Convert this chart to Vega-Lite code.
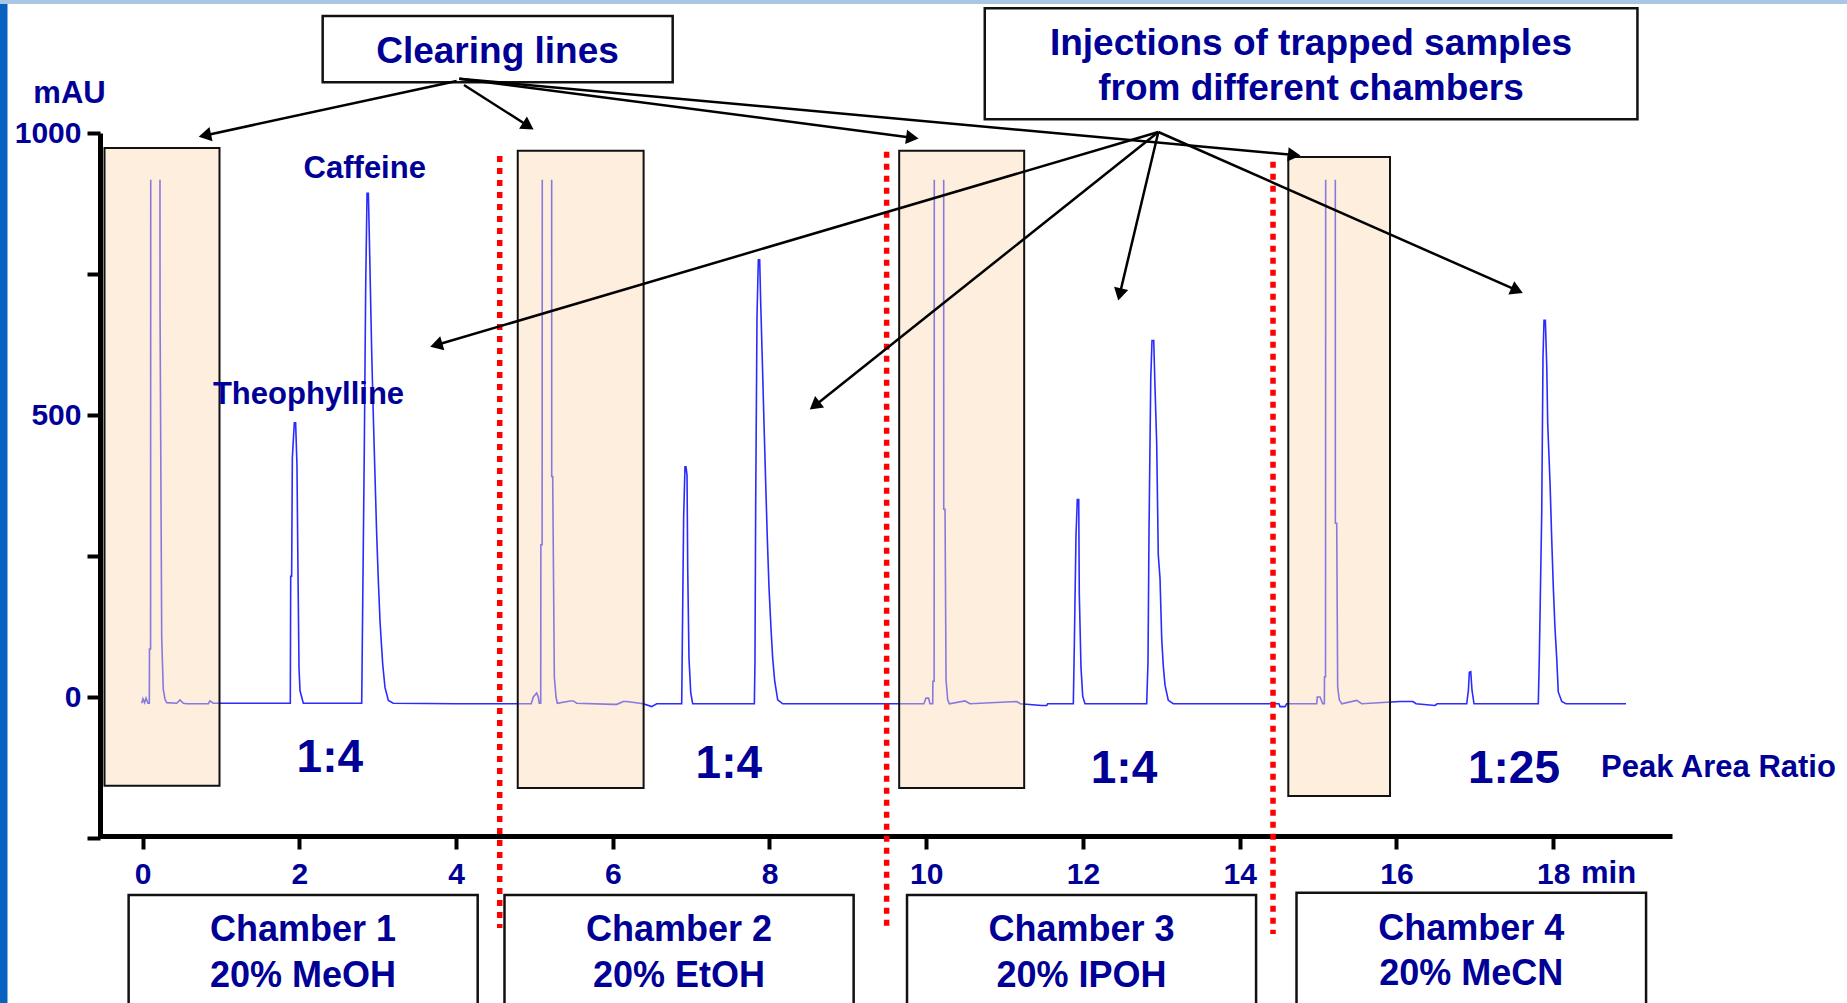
{
  "$schema": "https://vega.github.io/schema/vega-lite/v6.json",
  "autosize": "none",
  "width": 1572,
  "height": 705,
  "padding": {"left": 100, "top": 133, "right": 175, "bottom": 165},
  "background": "white",
  "config": {
    "view": {"stroke": null},
    "axis": {"grid": false},
    "text": {"font": "Liberation Sans", "fontWeight": "bold", "color": "#000096", "baseline": "alphabetic"}
  },
  "datasets": {
    "frame": [
      {"part": "edge", "t1": -1.95, "t2": -1.7226, "v1": -650, "v2": 1300},
      {"part": "top", "t1": -1.95, "t2": 22.5, "v1": 1228.7, "v2": 1300}
    ],
    "trace": [
      {"seg": 1, "t": -0.01, "v": -11}, {"seg": 1, "t": 0.006, "v": -3}, {"seg": 1, "t": 0.026, "v": -10},
      {"seg": 1, "t": 0.045, "v": -2}, {"seg": 1, "t": 0.07, "v": -11}, {"seg": 1, "t": 0.087, "v": -11},
      {"seg": 1, "t": 0.089, "v": 85}, {"seg": 1, "t": 0.103, "v": 85}, {"seg": 1, "t": 0.105, "v": 917},

      {"seg": 2, "t": 0.223, "v": 917}, {"seg": 2, "t": 0.2235, "v": 696}, {"seg": 2, "t": 0.245, "v": 105},
      {"seg": 2, "t": 0.265, "v": 14}, {"seg": 2, "t": 0.287, "v": -4}, {"seg": 2, "t": 0.309, "v": -10},
      {"seg": 2, "t": 0.436, "v": -11}, {"seg": 2, "t": 0.478, "v": -5}, {"seg": 2, "t": 0.521, "v": -11},
      {"seg": 2, "t": 0.564, "v": -12}, {"seg": 2, "t": 0.84, "v": -12}, {"seg": 2, "t": 0.861, "v": -7},
      {"seg": 2, "t": 0.903, "v": -11},
      {"seg": 2, "t": 1.886, "v": -11}, {"seg": 2, "t": 1.891, "v": 214}, {"seg": 2, "t": 1.903, "v": 214},
      {"seg": 2, "t": 1.912, "v": 424}, {"seg": 2, "t": 1.937, "v": 486}, {"seg": 2, "t": 1.954, "v": 486},
      {"seg": 2, "t": 1.971, "v": 411}, {"seg": 2, "t": 1.984, "v": 221}, {"seg": 2, "t": 1.997, "v": 51},
      {"seg": 2, "t": 2.01, "v": 11}, {"seg": 2, "t": 2.052, "v": -11},
      {"seg": 2, "t": 2.797, "v": -11}, {"seg": 2, "t": 2.805, "v": 99}, {"seg": 2, "t": 2.83, "v": 438},
      {"seg": 2, "t": 2.848, "v": 730}, {"seg": 2, "t": 2.865, "v": 893}, {"seg": 2, "t": 2.882, "v": 893},
      {"seg": 2, "t": 2.894, "v": 818}, {"seg": 2, "t": 2.925, "v": 608}, {"seg": 2, "t": 2.945, "v": 499},
      {"seg": 2, "t": 2.967, "v": 390}, {"seg": 2, "t": 2.988, "v": 289}, {"seg": 2, "t": 3.009, "v": 207},
      {"seg": 2, "t": 3.031, "v": 133}, {"seg": 2, "t": 3.065, "v": 58}, {"seg": 2, "t": 3.094, "v": 17},
      {"seg": 2, "t": 3.137, "v": -6}, {"seg": 2, "t": 3.2, "v": -11},
      {"seg": 2, "t": 4.0, "v": -12}, {"seg": 2, "t": 4.96, "v": -12}, {"seg": 2, "t": 4.987, "v": 0},
      {"seg": 2, "t": 5.03, "v": 7}, {"seg": 2, "t": 5.05, "v": 0}, {"seg": 2, "t": 5.063, "v": -11},
      {"seg": 2, "t": 5.081, "v": -11}, {"seg": 2, "t": 5.083, "v": 270}, {"seg": 2, "t": 5.099, "v": 270},
      {"seg": 2, "t": 5.101, "v": 917},

      {"seg": 3, "t": 5.221, "v": 917}, {"seg": 3, "t": 5.2215, "v": 391}, {"seg": 3, "t": 5.234, "v": 391},
      {"seg": 3, "t": 5.255, "v": 36}, {"seg": 3, "t": 5.276, "v": 0}, {"seg": 3, "t": 5.293, "v": -11},
      {"seg": 3, "t": 5.455, "v": -7}, {"seg": 3, "t": 5.497, "v": -7}, {"seg": 3, "t": 5.54, "v": -11},
      {"seg": 3, "t": 6.007, "v": -13}, {"seg": 3, "t": 6.051, "v": -13}, {"seg": 3, "t": 6.135, "v": -8},
      {"seg": 3, "t": 6.178, "v": -8}, {"seg": 3, "t": 6.39, "v": -12}, {"seg": 3, "t": 6.497, "v": -17},
      {"seg": 3, "t": 6.561, "v": -12},
      {"seg": 3, "t": 6.88, "v": -12}, {"seg": 3, "t": 6.888, "v": 96}, {"seg": 3, "t": 6.905, "v": 320},
      {"seg": 3, "t": 6.922, "v": 408}, {"seg": 3, "t": 6.935, "v": 408}, {"seg": 3, "t": 6.948, "v": 393},
      {"seg": 3, "t": 6.957, "v": 225}, {"seg": 3, "t": 6.973, "v": 69}, {"seg": 3, "t": 6.995, "v": 8},
      {"seg": 3, "t": 7.02, "v": -12},
      {"seg": 3, "t": 7.807, "v": -12}, {"seg": 3, "t": 7.815, "v": 62}, {"seg": 3, "t": 7.824, "v": 340},
      {"seg": 3, "t": 7.841, "v": 676}, {"seg": 3, "t": 7.858, "v": 775}, {"seg": 3, "t": 7.875, "v": 775},
      {"seg": 3, "t": 7.888, "v": 700}, {"seg": 3, "t": 7.909, "v": 595}, {"seg": 3, "t": 7.93, "v": 486},
      {"seg": 3, "t": 7.952, "v": 378}, {"seg": 3, "t": 7.973, "v": 279}, {"seg": 3, "t": 7.994, "v": 194},
      {"seg": 3, "t": 8.02, "v": 120}, {"seg": 3, "t": 8.041, "v": 69}, {"seg": 3, "t": 8.067, "v": 28},
      {"seg": 3, "t": 8.105, "v": -5}, {"seg": 3, "t": 8.169, "v": -12},
      {"seg": 3, "t": 9.5, "v": -12}, {"seg": 3, "t": 9.97, "v": -12}, {"seg": 3, "t": 9.997, "v": -2},
      {"seg": 3, "t": 10.03, "v": -2}, {"seg": 3, "t": 10.048, "v": -12}, {"seg": 3, "t": 10.083, "v": -12},
      {"seg": 3, "t": 10.085, "v": 28}, {"seg": 3, "t": 10.101, "v": 28}, {"seg": 3, "t": 10.103, "v": 917},

      {"seg": 4, "t": 10.223, "v": 917}, {"seg": 4, "t": 10.2235, "v": 333}, {"seg": 4, "t": 10.24, "v": 333},
      {"seg": 4, "t": 10.253, "v": 30}, {"seg": 4, "t": 10.274, "v": -5}, {"seg": 4, "t": 10.295, "v": -12},
      {"seg": 4, "t": 10.495, "v": -7}, {"seg": 4, "t": 10.559, "v": -12}, {"seg": 4, "t": 11.155, "v": -8},
      {"seg": 4, "t": 11.2, "v": -12}, {"seg": 4, "t": 11.474, "v": -15}, {"seg": 4, "t": 11.537, "v": -15},
      {"seg": 4, "t": 11.55, "v": -12},
      {"seg": 4, "t": 11.877, "v": -12}, {"seg": 4, "t": 11.89, "v": 93}, {"seg": 4, "t": 11.911, "v": 286},
      {"seg": 4, "t": 11.928, "v": 350}, {"seg": 4, "t": 11.946, "v": 350}, {"seg": 4, "t": 11.953, "v": 184},
      {"seg": 4, "t": 11.975, "v": 52}, {"seg": 4, "t": 11.997, "v": 1}, {"seg": 4, "t": 12.026, "v": -12},
      {"seg": 4, "t": 12.813, "v": -12}, {"seg": 4, "t": 12.83, "v": 62}, {"seg": 4, "t": 12.843, "v": 296},
      {"seg": 4, "t": 12.865, "v": 564}, {"seg": 4, "t": 12.881, "v": 632}, {"seg": 4, "t": 12.903, "v": 632},
      {"seg": 4, "t": 12.919, "v": 551}, {"seg": 4, "t": 12.941, "v": 449}, {"seg": 4, "t": 12.961, "v": 252},
      {"seg": 4, "t": 12.983, "v": 211}, {"seg": 4, "t": 13.005, "v": 103}, {"seg": 4, "t": 13.025, "v": 55},
      {"seg": 4, "t": 13.047, "v": 21}, {"seg": 4, "t": 13.089, "v": -6}, {"seg": 4, "t": 13.153, "v": -12},
      {"seg": 4, "t": 14.5, "v": -12}, {"seg": 4, "t": 14.514, "v": -17}, {"seg": 4, "t": 14.578, "v": -17},
      {"seg": 4, "t": 14.6, "v": -12}, {"seg": 4, "t": 14.983, "v": -12}, {"seg": 4, "t": 14.99, "v": 0},
      {"seg": 4, "t": 15.025, "v": 0}, {"seg": 4, "t": 15.059, "v": -12}, {"seg": 4, "t": 15.08, "v": -12},
      {"seg": 4, "t": 15.082, "v": 36}, {"seg": 4, "t": 15.095, "v": 36}, {"seg": 4, "t": 15.097, "v": 917},

      {"seg": 5, "t": 15.22, "v": 917}, {"seg": 5, "t": 15.2205, "v": 308}, {"seg": 5, "t": 15.238, "v": 308},
      {"seg": 5, "t": 15.25, "v": 18}, {"seg": 5, "t": 15.271, "v": -5}, {"seg": 5, "t": 15.302, "v": -12},
      {"seg": 5, "t": 15.493, "v": -6}, {"seg": 5, "t": 15.557, "v": -12}, {"seg": 5, "t": 16.046, "v": -8},
      {"seg": 5, "t": 16.21, "v": -8}, {"seg": 5, "t": 16.25, "v": -12}, {"seg": 5, "t": 16.492, "v": -15},
      {"seg": 5, "t": 16.52, "v": -12},
      {"seg": 5, "t": 16.897, "v": -12}, {"seg": 5, "t": 16.918, "v": 12}, {"seg": 5, "t": 16.93, "v": 44},
      {"seg": 5, "t": 16.948, "v": 45}, {"seg": 5, "t": 16.964, "v": 12}, {"seg": 5, "t": 16.99, "v": -12},
      {"seg": 5, "t": 17.81, "v": -12}, {"seg": 5, "t": 17.823, "v": 69}, {"seg": 5, "t": 17.854, "v": 329},
      {"seg": 5, "t": 17.87, "v": 603}, {"seg": 5, "t": 17.883, "v": 668}, {"seg": 5, "t": 17.9, "v": 668},
      {"seg": 5, "t": 17.918, "v": 586}, {"seg": 5, "t": 17.93, "v": 485}, {"seg": 5, "t": 17.96, "v": 379},
      {"seg": 5, "t": 17.981, "v": 281}, {"seg": 5, "t": 18.002, "v": 193}, {"seg": 5, "t": 18.023, "v": 122},
      {"seg": 5, "t": 18.045, "v": 69}, {"seg": 5, "t": 18.065, "v": 9}, {"seg": 5, "t": 18.109, "v": -8},
      {"seg": 5, "t": 18.163, "v": -12}, {"seg": 5, "t": 18.929, "v": -12}
    ],
    "zones": [
      {"chamber": 1, "t1": -0.485, "t2": 0.9825, "v1": -157.3, "v2": 973.4},
      {"chamber": 2, "t1": 4.788, "t2": 6.394, "v1": -161.3, "v2": 968.6},
      {"chamber": 3, "t1": 9.655, "t2": 11.25, "v1": -161.3, "v2": 968.6},
      {"chamber": 4, "t1": 14.62, "t2": 15.918, "v1": -175.5, "v2": 957.4}
    ],
    "dividers": [
      {"t": 4.558, "v1": 959.2, "v2": -409.6},
      {"t": 9.495, "v1": 966.8, "v2": -409.6},
      {"t": 14.425, "v1": 949.1, "v2": -420}
    ],
    "boxes": [
      {"name": "clearing", "t1": 2.299, "t2": 6.765, "v1": 1089.9, "v2": 1207.4},
      {"name": "injections", "t1": 10.747, "t2": 19.075, "v1": 1024.3, "v2": 1221.1},
      {"name": "chamber 1", "t1": -0.177, "t2": 4.277, "v1": -600, "v2": -351.1},
      {"name": "chamber 2", "t1": 4.619, "t2": 9.074, "v1": -600, "v2": -351.1},
      {"name": "chamber 3", "t1": 9.755, "t2": 14.209, "v1": -600, "v2": -351.1},
      {"name": "chamber 4", "t1": 14.725, "t2": 19.185, "v1": -600, "v2": -347}
    ],
    "arrows": [
      {"from": "clearing", "t1": 4.009, "v1": 1092.2, "t2": 0.721, "v2": 993.4},
      {"from": "clearing", "t1": 4.102, "v1": 1085.1, "t2": 4.987, "v2": 1006.6},
      {"from": "clearing", "t1": 4.042, "v1": 1096.3, "t2": 9.899, "v2": 990.4},
      {"from": "clearing", "t1": 4.042, "v1": 1096.3, "t2": 14.772, "v2": 960.1},
      {"from": "injections", "t1": 12.962, "v1": 1001.8, "t2": 3.675, "v2": 621.1},
      {"from": "injections", "t1": 12.962, "v1": 1001.8, "t2": 8.517, "v2": 509.9},
      {"from": "injections", "t1": 12.962, "v1": 1001.8, "t2": 12.451, "v2": 703.4},
      {"from": "injections", "t1": 12.962, "v1": 1001.8, "t2": 17.609, "v2": 716.5}
    ],
    "labels": [
      {"role": "callout", "t": 4.53, "v": 1123.6, "text": "Clearing lines"},
      {"role": "callout", "t": 14.91, "v": 1138.3, "text": "Injections of trapped samples"},
      {"role": "callout", "t": 14.91, "v": 1058.5, "text": "from different chambers"},
      {"role": "chamber", "t": 2.048, "v": -433.5, "text": "Chamber 1"},
      {"role": "chamber", "t": 2.048, "v": -513.3, "text": "20% MeOH"},
      {"role": "chamber", "t": 6.846, "v": -433.5, "text": "Chamber 2"},
      {"role": "chamber", "t": 6.846, "v": -513.3, "text": "20% EtOH"},
      {"role": "chamber", "t": 11.982, "v": -433.5, "text": "Chamber 3"},
      {"role": "chamber", "t": 11.982, "v": -513.3, "text": "20% IPOH"},
      {"role": "chamber", "t": 16.955, "v": -431.5, "text": "Chamber 4"},
      {"role": "chamber", "t": 16.955, "v": -511.3, "text": "20% MeCN"},
      {"role": "ratio", "t": 2.39, "v": -132.4, "text": "1:4"},
      {"role": "ratio", "t": 7.481, "v": -143.6, "text": "1:4"},
      {"role": "ratio", "t": 12.524, "v": -152.5, "text": "1:4"},
      {"role": "ratio", "t": 17.499, "v": -152.5, "text": "1:25"},
      {"role": "compound", "t": 2.836, "v": 919.7, "text": "Caffeine"},
      {"role": "compound", "t": 2.118, "v": 519.5, "text": "Theophylline"},
      {"role": "compound", "t": -0.931, "v": 1052.6, "text": "mAU"},
      {"role": "note", "t": 18.61, "v": -141.8, "text": "Peak Area Ratio"},
      {"role": "note", "t": 18.355, "v": -329.8, "text": "min"}
    ]
  },
  "layer": [
    {
      "data": {"name": "frame"},
      "mark": {"type": "rect", "strokeWidth": 0},
      "encoding": {
        "x": {"field": "t1", "type": "quantitative", "title": null},
        "x2": {"field": "t2"},
        "y": {"field": "v1", "type": "quantitative", "title": null},
        "y2": {"field": "v2"},
        "color": {"field": "part", "type": "nominal", "legend": null,
                  "scale": {"domain": ["edge", "top"], "range": ["#0862c0", "#aac6e4"]}}
      }
    },
    {
      "data": {"name": "trace"},
      "mark": {"type": "line", "color": "#2b2bff", "strokeWidth": 1.6, "interpolate": "linear"},
      "encoding": {
        "x": {"field": "t", "type": "quantitative",
              "scale": {"domain": [-0.5423, 19.516], "nice": false, "zero": false},
              "axis": {"title": null, "values": [0, 2, 4, 6, 8, 10, 12, 14, 16, 18], "format": "d", "offset": -2,
                       "domainColor": "black", "domainWidth": 5, "tickColor": "black", "tickWidth": 4,
                       "tickSize": 13, "labelFont": "Liberation Sans", "labelFontWeight": "bold",
                       "labelFontSize": 30, "labelColor": "#000096", "labelPadding": 10,
                       "labelFlush": false, "labelOverlap": false}},
        "y": {"field": "v", "type": "quantitative",
              "scale": {"domain": [-250, 1000], "nice": false, "zero": false},
              "axis": {"title": null, "values": [-250, 0, 250, 500, 750, 1000], "format": "d",
                       "labelExpr": "datum.value == 0 || datum.value == 500 || datum.value == 1000 ? datum.label : ''",
                       "domainColor": "black", "domainWidth": 5, "tickColor": "black", "tickWidth": 4,
                       "tickSize": 13, "labelFont": "Liberation Sans", "labelFontWeight": "bold",
                       "labelFontSize": 30, "labelColor": "#000096", "labelPadding": 6,
                       "labelFlush": false, "labelOverlap": false}},
        "detail": {"field": "seg", "type": "nominal"}
      }
    },
    {
      "data": {"name": "zones"},
      "mark": {"type": "rect", "fill": "#fbd9b6", "fillOpacity": 0.45, "stroke": "#111111", "strokeWidth": 2},
      "encoding": {
        "x": {"field": "t1", "type": "quantitative", "title": null},
        "x2": {"field": "t2"},
        "y": {"field": "v1", "type": "quantitative", "title": null},
        "y2": {"field": "v2"}
      }
    },
    {
      "data": {"name": "dividers"},
      "mark": {"type": "rule", "color": "#ff0000", "strokeWidth": 5.5, "strokeDash": [6, 6], "strokeCap": "butt"},
      "encoding": {
        "x": {"field": "t", "type": "quantitative", "title": null},
        "y": {"field": "v1", "type": "quantitative", "title": null},
        "y2": {"field": "v2"}
      }
    },
    {
      "data": {"name": "boxes"},
      "mark": {"type": "rect", "fill": "white", "stroke": "#111111", "strokeWidth": 2.5},
      "encoding": {
        "x": {"field": "t1", "type": "quantitative", "title": null},
        "x2": {"field": "t2"},
        "y": {"field": "v1", "type": "quantitative", "title": null},
        "y2": {"field": "v2"}
      }
    },
    {
      "data": {"name": "arrows"},
      "transform": [
        {"calculate": "(datum.t2 - datum.t1) * 78.37", "as": "dx"},
        {"calculate": "(datum.v1 - datum.v2) * 0.564", "as": "dy"},
        {"calculate": "sqrt(datum.dx * datum.dx + datum.dy * datum.dy)", "as": "len"},
        {"calculate": "datum.t2 - datum.dx / datum.len * 6 / 78.37", "as": "ht"},
        {"calculate": "datum.v2 + datum.dy / datum.len * 6 / 0.564", "as": "hv"}
      ],
      "mark": {"type": "rule", "color": "black", "strokeWidth": 2.5},
      "encoding": {
        "x": {"field": "t1", "type": "quantitative", "title": null},
        "y": {"field": "v1", "type": "quantitative", "title": null},
        "x2": {"field": "ht"},
        "y2": {"field": "hv"}
      }
    },
    {
      "data": {"name": "arrows"},
      "transform": [
        {"calculate": "(datum.t2 - datum.t1) * 78.37", "as": "dx"},
        {"calculate": "(datum.v1 - datum.v2) * 0.564", "as": "dy"},
        {"calculate": "sqrt(datum.dx * datum.dx + datum.dy * datum.dy)", "as": "len"},
        {"calculate": "atan2(datum.dx, -datum.dy) * 180 / PI", "as": "heading"},
        {"calculate": "datum.t2 - datum.dx / datum.len * 6 / 78.37", "as": "ht"},
        {"calculate": "datum.v2 + datum.dy / datum.len * 6 / 0.564", "as": "hv"}
      ],
      "mark": {"type": "point", "shape": "triangle-up", "filled": true, "color": "black", "size": 210, "opacity": 1},
      "encoding": {
        "x": {"field": "ht", "type": "quantitative", "title": null},
        "y": {"field": "hv", "type": "quantitative", "title": null},
        "angle": {"field": "heading", "type": "quantitative", "scale": null}
      }
    },
    {
      "data": {"name": "labels"},
      "transform": [{"filter": "datum.role == 'callout'"}],
      "mark": {"type": "text", "fontSize": 37, "align": "center"},
      "encoding": {
        "x": {"field": "t", "type": "quantitative", "title": null},
        "y": {"field": "v", "type": "quantitative", "title": null},
        "text": {"field": "text"}
      }
    },
    {
      "data": {"name": "labels"},
      "transform": [{"filter": "datum.role == 'chamber'"}],
      "mark": {"type": "text", "fontSize": 36, "align": "center"},
      "encoding": {
        "x": {"field": "t", "type": "quantitative", "title": null},
        "y": {"field": "v", "type": "quantitative", "title": null},
        "text": {"field": "text"}
      }
    },
    {
      "data": {"name": "labels"},
      "transform": [{"filter": "datum.role == 'ratio'"}],
      "mark": {"type": "text", "fontSize": 46, "align": "center"},
      "encoding": {
        "x": {"field": "t", "type": "quantitative", "title": null},
        "y": {"field": "v", "type": "quantitative", "title": null},
        "text": {"field": "text"}
      }
    },
    {
      "data": {"name": "labels"},
      "transform": [{"filter": "datum.role == 'compound'"}],
      "mark": {"type": "text", "fontSize": 31, "align": "center"},
      "encoding": {
        "x": {"field": "t", "type": "quantitative", "title": null},
        "y": {"field": "v", "type": "quantitative", "title": null},
        "text": {"field": "text"}
      }
    },
    {
      "data": {"name": "labels"},
      "transform": [{"filter": "datum.role == 'note'"}],
      "mark": {"type": "text", "fontSize": 31, "align": "left"},
      "encoding": {
        "x": {"field": "t", "type": "quantitative", "title": null},
        "y": {"field": "v", "type": "quantitative", "title": null},
        "text": {"field": "text"}
      }
    }
  ]
}
